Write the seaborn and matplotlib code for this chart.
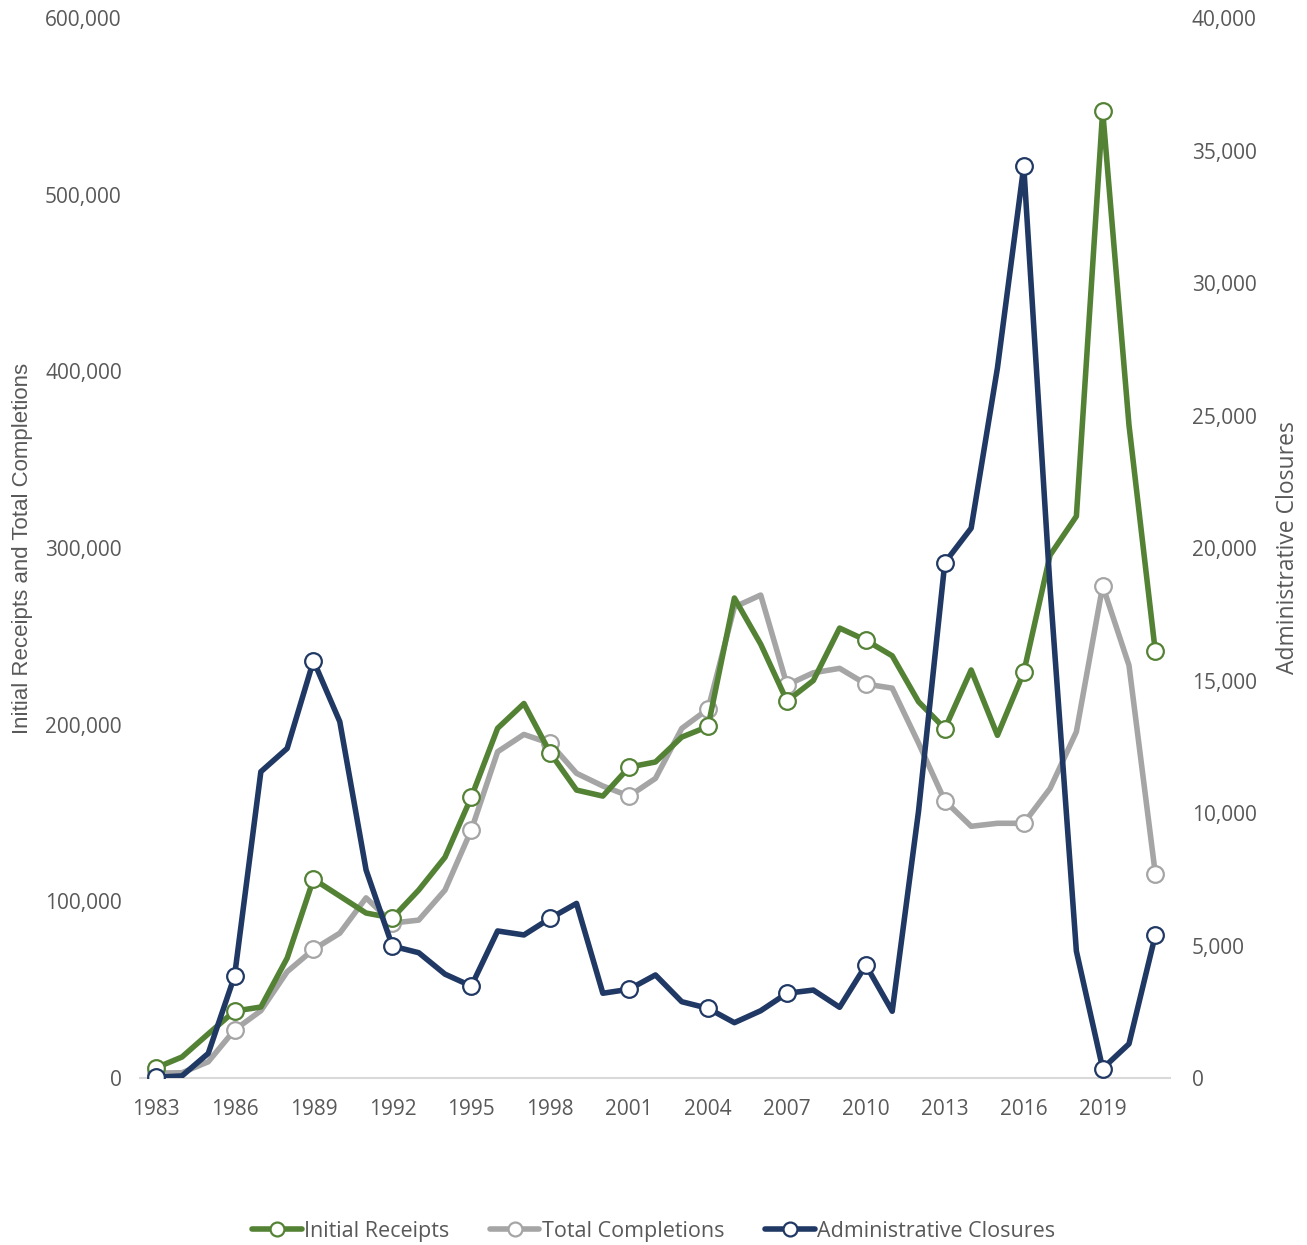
import numpy as np
import pandas as pd
import seaborn as sns
import matplotlib.pyplot as plt
from matplotlib.lines import Line2D

# Данные
years = list(range(1983, 2022))

initial_receipts = [5700, 11900, 25000, 37900, 40200, 67900, 112600, 103000, 93400, 90600,
                    106400, 125000, 159000, 198000, 212000, 184000, 163000, 159600, 176000, 178900,
                    193000, 199000, 271700, 245600, 213400, 225000, 254700, 247800, 239000, 213000,
                    197800, 231000, 194000, 229700, 296000, 318000, 547400, 369600, 241500]

total_completions = [2800, 3000, 9200, 27200, 38100, 60200, 72800, 82000, 102000, 87700,
                     89400, 106400, 140400, 184700, 194500, 189400, 172500, 165300, 159600, 169600,
                     197900, 208900, 266600, 273400, 222500, 229400, 231900, 223000, 220700, 189600,
                     156900, 142500, 144200, 144200, 163900, 196000, 278600, 233600, 115700]

admin_closures = [30, 80, 930, 3850, 11560, 12440, 15750, 13450, 7850, 4980,
                  4730, 3920, 3470, 5550, 5400, 6030, 6590, 3200, 3350, 3890,
                  2880, 2630, 2090, 2540, 3200, 3320, 2670, 4260, 2520, 10070,
                  19450, 20750, 26800, 34400, 18500, 4790, 360, 1290, 5390]

xticks = list(range(1983, 2020, 3))

GREEN = '#548235'
GRAY = '#A5A5A5'
NAVY = '#203864'
TEXT = '#595959'

# Маркеры каждые 3 года + последний год
mark_idx = [i for i, y in enumerate(years) if (y - 1983) % 3 == 0] + [len(years) - 1]

df = pd.DataFrame({'Year': years,
                   'Initial Receipts': initial_receipts,
                   'Total Completions': total_completions,
                   'Administrative Closures': admin_closures})

sns.set_style('white')
plt.rcParams['font.family'] = ['Open Sans', 'DejaVu Sans']

fig = plt.figure(figsize=(13.07, 12.45), dpi=100)
ax = fig.add_axes([0.107, 0.1341, 0.788, 0.8514])
ax2 = ax.twinx()

LW = 4.0
line_kw = dict(linewidth=LW, marker='o', markevery=mark_idx, markersize=12,
               markerfacecolor='white', markeredgewidth=1.6)

sns.lineplot(data=df, x='Year', y='Initial Receipts', ax=ax, color=GREEN,
             markeredgecolor=GREEN, zorder=3, **line_kw)
sns.lineplot(data=df, x='Year', y='Total Completions', ax=ax, color=GRAY,
             markeredgecolor=GRAY, zorder=2, **line_kw)
sns.lineplot(data=df, x='Year', y='Administrative Closures', ax=ax2, color=NAVY,
             markeredgecolor=NAVY, zorder=3, **line_kw)

ax.set_xlim(1982.4, 2021.55)
ax.set_ylim(0, 600000)
ax2.set_ylim(0, 40000)
ax.set_xticks(xticks)
ax.set_yticks(np.arange(0, 600001, 100000))
ax2.set_yticks(np.arange(0, 40001, 5000))
ax.yaxis.set_major_formatter(plt.FuncFormatter(lambda v, p: f'{int(v):,}'))
ax2.yaxis.set_major_formatter(plt.FuncFormatter(lambda v, p: f'{int(v):,}'))

for a in (ax, ax2):
    for s in a.spines.values():
        s.set_visible(False)
    a.tick_params(axis='both', length=0, labelsize=15, labelcolor=TEXT)
    a.set_xlabel('')
ax.spines['bottom'].set_visible(True)
ax.spines['bottom'].set_color('#D9D9D9')
ax.spines['bottom'].set_linewidth(1.5)
ax.tick_params(axis='x', pad=15)
ax.tick_params(axis='y', pad=13)
ax2.tick_params(axis='y', pad=16)

ax.set_ylabel('Initial Receipts and Total Completions', fontsize=16, color=TEXT,
              family=['Liberation Sans', 'DejaVu Sans'])
ax.yaxis.set_label_coords(-0.104, 0.5)
ax2.set_ylabel('Administrative Closures', fontsize=16.5, color=TEXT)
ax2.yaxis.set_label_coords(1.103, 0.5)

handles = [Line2D([], [], color=c, linewidth=LW, marker='o', markersize=10,
                  markerfacecolor='white', markeredgecolor=c, markeredgewidth=1.6)
           for c in (GREEN, GRAY, NAVY)]
fig.legend(handles, ['Initial Receipts', 'Total Completions', 'Administrative Closures'],
           loc='center', bbox_to_anchor=(0.5, 0.011), ncol=3, frameon=False,
           fontsize=15.5, labelcolor=TEXT, handlelength=2.3, handletextpad=0.1,
           columnspacing=1.9)

plt.savefig('out.png', dpi=100)
